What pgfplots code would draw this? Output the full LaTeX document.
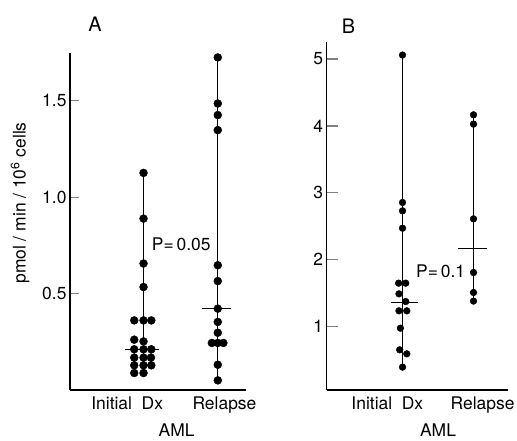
\documentclass[border=0pt]{standalone}
\usepackage{pgfplots}
\pgfplotsset{compat=1.18}
\usepackage{fontspec}
\setmainfont{TeX Gyre Heros}

\newcommand{\lbl}{\fontsize{17.5}{20}\selectfont}

\pgfplotsset{
  dotplot/.style={
    scale only axis,
    axis x line=bottom, axis y line=left,
    axis line style={-, line width=1.4bp},
    xtick style={draw=none},
    ytick style={line width=1.3bp},
    tick align=inside,
    tick label style={font=\lbl},
    xticklabel style={yshift=-3bp},
    /pgf/number format/assume math mode=true,
    clip=false,
  },
  col/.style={black, line width=1.1bp, no marks},
  pts/.style={only marks, mark=*, mark options={fill=black, draw=black}},
}

\begin{document}
\begin{tikzpicture}[x=1bp,y=1bp]
\path[use as bounding box] (0,0) rectangle (517,441);

% ---- panel A ----
\begin{axis}[dotplot,
  at={(70bp,51bp)}, anchor=south west,
  width=176bp, height=337bp,
  xmin=0.01, xmax=2.38, ymin=0, ymax=1.748,
  xtick={0.78,2.09}, xticklabels={Initial\ \ Dx, Relapse},
  ytick={0.5,1.0,1.5},
  yticklabel style={/pgf/number format/.cd, fixed, fixed zerofill, precision=1},
  major tick length=9bp,
  xlabel={AML}, xlabel style={font=\lbl, inner sep=0pt, at={(axis description cs:0.606,-0.139)}, anchor=base},
  ylabel={pmol\ /\ min\ /\ 10\textsuperscript{6} cells},
  ylabel style={font=\lbl, at={(axis description cs:-0.284,0.555)}, anchor=center},
]
\addplot[col] coordinates {(1,0.088) (1,1.126)};
\addplot[col] coordinates {(0.753,0.211) (1.21,0.211)};
\addplot[col] coordinates {(2,0.050) (2,1.725)};
\addplot[col] coordinates {(1.787,0.422) (2.178,0.422)};
\addplot[pts, mark size=4pt] coordinates {
  (1,1.126) (1,0.889) (1,0.656) (1,0.534)
  (0.875,0.361) (1,0.361) (1.105,0.361)
  (0.875,0.261) (1,0.252)
  (0.875,0.211) (1,0.211) (1.105,0.211)
  (0.875,0.168) (1,0.168) (1.1,0.168)
  (0.875,0.128) (1,0.128) (1.105,0.128)
  (0.875,0.088) (1,0.088)
};
\addplot[pts, mark size=4pt] coordinates {
  (2,1.725) (2,1.486) (2,1.426) (2,1.348) (2,0.647) (2,0.565)
  (2,0.422) (2,0.353) (2,0.297)
  (1.92,0.244) (2,0.244) (2.075,0.244)
  (2,0.131) (2,0.050)
};
\node[font=\lbl, anchor=west, inner sep=0pt] at (axis cs:1.11,0.754) {P=\,0.05};
\node[font=\fontsize{20}{22}\selectfont, anchor=center] at (axis description cs:0.142,1.085) {A};
\end{axis}

% ---- panel B ----
\begin{axis}[dotplot,
  at={(326.7bp,51bp)}, anchor=south west,
  width=181.6bp, height=348.3bp,
  xmin=-0.068, xmax=2.49, ymin=0.05, ymax=5.26,
  xtick={0.786,2.128}, xticklabels={Initial\ \ Dx, Relapse},
  ytick={1,2,3,4,5},
  major tick length=11bp,
  xlabel={AML}, xlabel style={font=\lbl, inner sep=0pt, at={(axis description cs:0.613,-0.1349)}, anchor=base},
]
\addplot[col] coordinates {(1,0.392) (1,5.06)};
\addplot[col] coordinates {(0.835,1.36) (1.214,1.36)};
\addplot[col] coordinates {(2,1.38) (2,4.166)};
\addplot[col] coordinates {(1.78,2.16) (2.19,2.16)};
\addplot[pts, mark size=3.4pt] coordinates {
  (1,5.06) (1,2.855) (1,2.73) (1,2.47)
  (0.945,1.648) (1.045,1.648)
  (0.95,1.488) (1.045,1.373)
  (0.95,1.234) (1.06,1.234)
  (0.97,0.975) (0.96,0.651) (1.06,0.591) (1,0.392)
};
\addplot[pts, mark size=3.4pt] coordinates {
  (2,4.166) (2,4.027) (2,2.61) (2,1.807) (2,1.508) (2,1.38)
};
\node[font=\lbl, anchor=west, inner sep=0pt] at (axis cs:1.19,1.83) {P=\,0.1};
\node[font=\fontsize{20}{22}\selectfont, anchor=center] at (axis description cs:0.12,1.045) {B};
\end{axis}
\end{tikzpicture}
\end{document}
